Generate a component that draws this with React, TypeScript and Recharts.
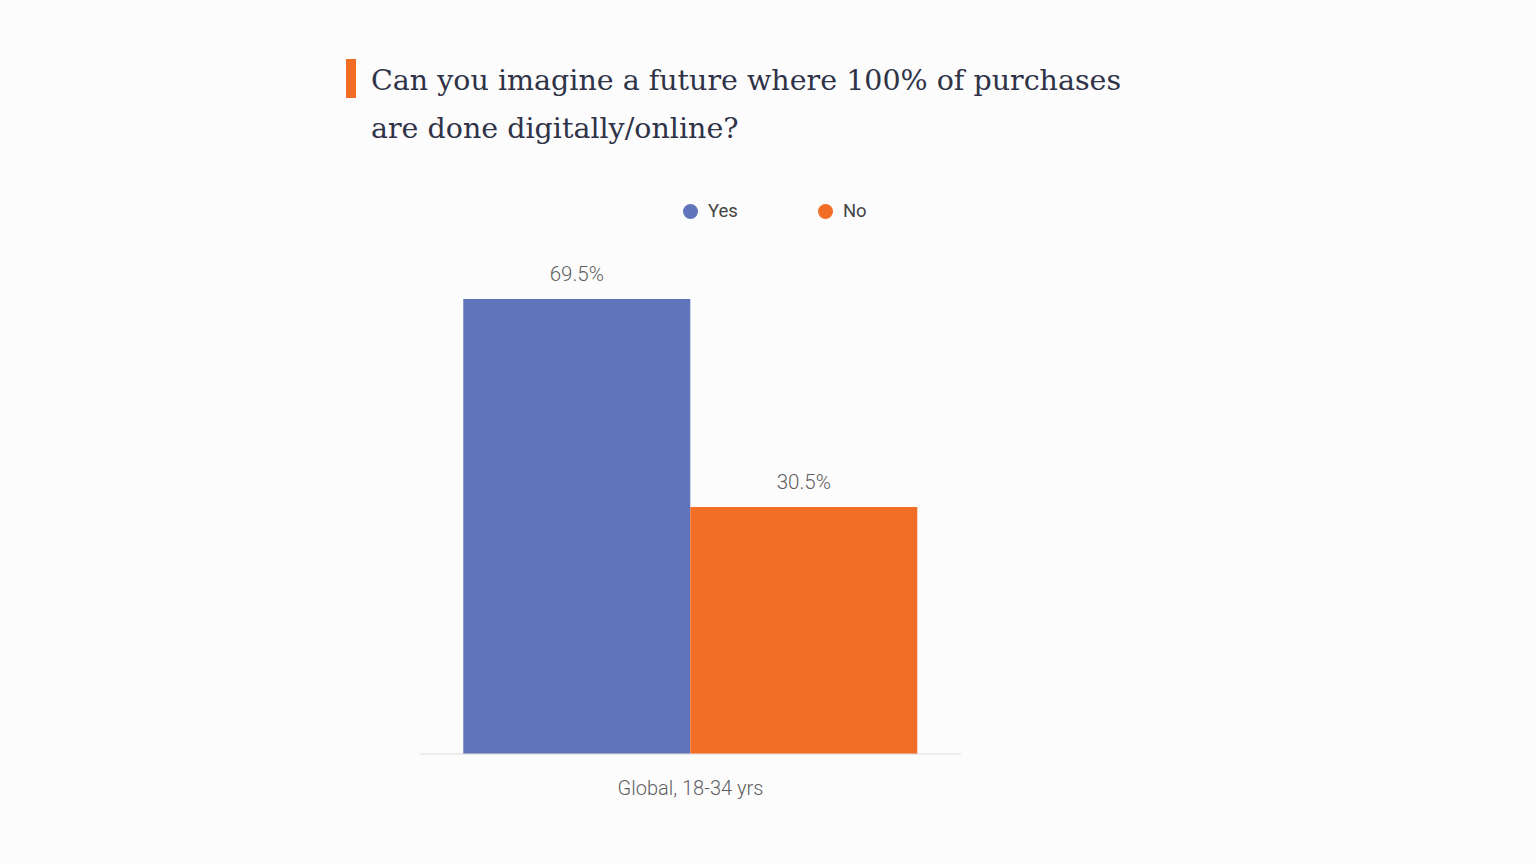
import React from 'react';
import { BarChart, Bar, XAxis, YAxis, LabelList } from 'recharts';

const categories = ['Global, 18-34 yrs'];
const yesValues = [69.5];
const noValues = [30.5];
const seriesNames = ['Yes', 'No'];
const seriesColors = ['#5f74ba', '#f26d25'];
const titleLines = ['Can you imagine a future where 100% of purchases', 'are done digitally/online?'];

const AXIS_MIN = -15.8;
const AXIS_MAX = 84.2;

const data = categories.map((c, i) => ({ category: c, yes: yesValues[i], no: noValues[i] }));

const fmt = (v: number) => `${Number(v).toFixed(1)}%`;

export default function App() {
  return (
    <div
      style={{
        position: 'absolute',
        left: 0,
        top: 0,
        width: 1536,
        height: 864,
        background: '#fcfcfd',
        overflow: 'hidden',
      }}
    >
      <div style={{ position: 'absolute', left: 346, top: 59, width: 10, height: 39, background: '#f26d25' }} />
      <div
        style={{
          position: 'absolute',
          left: 371,
          top: 57,
          fontFamily: '"DejaVu Serif", serif',
          fontSize: 28.5,
          lineHeight: '48px',
          color: '#2f3347',
          fontWeight: 300,
          whiteSpace: 'nowrap',
        }}
      >
        {titleLines.map((t, i) => (
          <div key={i}>{t}</div>
        ))}
      </div>
      <div style={{ position: 'absolute', left: 683, top: 199, display: 'flex', fontFamily: 'Roboto, sans-serif', fontSize: 18.5, color: '#444' }}>
        {seriesNames.map((n, i) => (
          <div key={n} style={{ display: 'flex', alignItems: 'center', marginRight: i === 0 ? 80 : 0, height: 24 }}>
            <span style={{ display: 'inline-block', width: 15, height: 15, borderRadius: '50%', background: seriesColors[i], marginRight: 10 }} />
            <span>{n}</span>
          </div>
        ))}
      </div>
      <div style={{ position: 'absolute', left: 0, top: 0 }}>
        <BarChart
          width={1536}
          height={864}
          data={data}
          margin={{ top: 220.7, right: 575, bottom: 70, left: 420 }}
          barCategoryGap="8%"
          barGap={0}
        >
          <YAxis hide domain={[AXIS_MIN, AXIS_MAX]} type="number" allowDataOverflow />
          <XAxis
            dataKey="category"
            height={40}
            axisLine={{ stroke: '#dcdcdc', strokeWidth: 1 }}
            tickLine={false}
            tickMargin={21}
            tick={{ fill: '#5f5f5f', fontSize: 20, fontWeight: 300, fontFamily: 'Roboto, sans-serif' }}
          />
          <Bar dataKey={(d: any) => [AXIS_MIN, d.yes]} name={seriesNames[0]} fill={seriesColors[0]} isAnimationActive={false}>
            <LabelList dataKey="yes" position="top" offset={18} formatter={fmt as any} fill="#5f5f5f" fontSize={20.5} fontWeight={300} fontFamily="Roboto, sans-serif" />
          </Bar>
          <Bar dataKey={(d: any) => [AXIS_MIN, d.no]} name={seriesNames[1]} fill={seriesColors[1]} isAnimationActive={false}>
            <LabelList dataKey="no" position="top" offset={18} formatter={fmt as any} fill="#5f5f5f" fontSize={20.5} fontWeight={300} fontFamily="Roboto, sans-serif" />
          </Bar>
        </BarChart>
      </div>
    </div>
  );
}
